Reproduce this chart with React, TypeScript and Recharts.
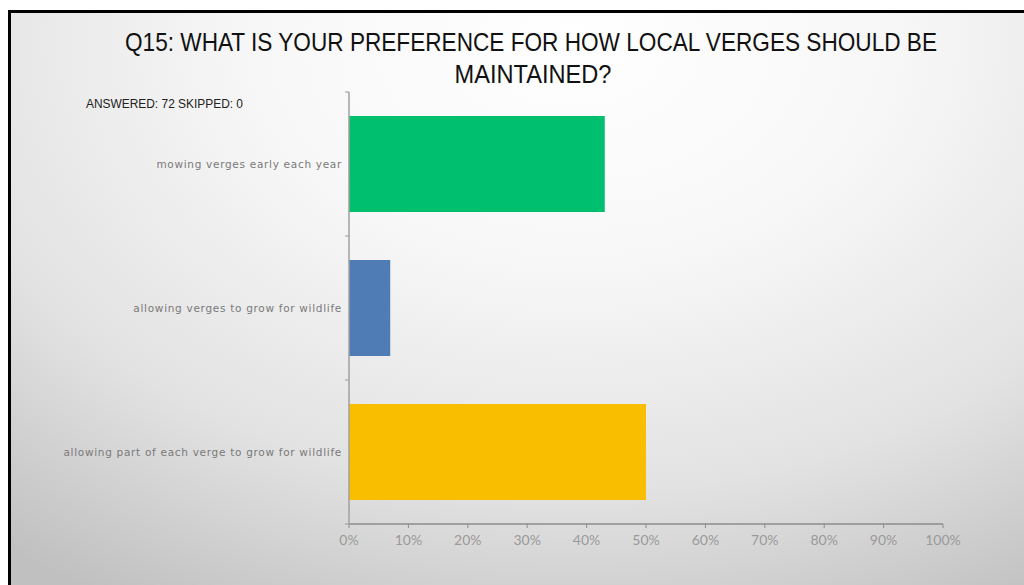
import { BarChart, Bar, XAxis, YAxis, Cell } from "recharts";

const categories = [
  "mowing verges early each year",
  "allowing verges to grow for wildlife",
  "allowing part of each verge to grow for wildlife",
];
const shares = [43.06, 6.94, 50.0];
const barColors = ["#00bf6f", "#507cb6", "#f9be00"];
const xTicks = [0, 10, 20, 30, 40, 50, 60, 70, 80, 90, 100];

const titleLines = [
  "Q15: WHAT IS YOUR PREFERENCE FOR HOW LOCAL VERGES SHOULD BE",
  "MAINTAINED?",
];
const answeredText = "ANSWERED: 72 SKIPPED: 0";

const W = 1024;
const H = 585;
const PLOT_TOP = 92;
const PLOT_BOTTOM = 524;
const AXIS_X = 349;
const HALF_BAND = (PLOT_BOTTOM - PLOT_TOP) / categories.length / 2;

const data = categories.map((name, i) => ({ name, value: shares[i] }));

// category label at band centre, small tick marks at the band edges
const CategoryTick = (props: any) => {
  const { x, y, payload, index } = props;
  const last = index === categories.length - 1;
  return (
    <g>
      <text
        x={x}
        y={y}
        dy={4}
        textAnchor="end"
        fill="#7a7a7a"
        style={{ fontSize: 10.5, fontFamily: "'DejaVu Sans', sans-serif", letterSpacing: 0.7 }}
      >
        {payload.value}
      </text>
      <line x1={AXIS_X - 4} x2={AXIS_X} y1={y - HALF_BAND} y2={y - HALF_BAND} stroke="#999" />
      {last && (
        <line x1={AXIS_X - 4} x2={AXIS_X} y1={y + HALF_BAND} y2={y + HALF_BAND} stroke="#999" />
      )}
    </g>
  );
};

export default function App() {
  return (
    <div
      style={{
        position: "fixed",
        left: 0,
        top: 0,
        width: W,
        height: H,
        background: "#fff",
        overflow: "hidden",
      }}
    >
      <div
        style={{
          position: "absolute",
          left: 8,
          top: 10,
          width: W,
          height: H,
          borderLeft: "3px solid #000",
          borderTop: "3px solid #000",
          background:
            "radial-gradient(ellipse 90% 110% at 55% 5%, #ffffff 0%, #f7f7f7 35%, #e2e2e2 70%, #c0c0c0 100%)",
        }}
      />
      <svg width={W} height={120} style={{ position: "absolute", left: 0, top: 0 }}>
        <text
          x={531}
          y={51}
          textAnchor="middle"
          fontSize={25}
          fill="#111"
          fontFamily="Liberation Sans, sans-serif"
          textLength={812}
          lengthAdjust="spacingAndGlyphs"
        >
          {titleLines[0]}
        </text>
        <text
          x={533}
          y={83}
          textAnchor="middle"
          fontSize={25}
          fill="#111"
          fontFamily="Liberation Sans, sans-serif"
          textLength={157}
          lengthAdjust="spacingAndGlyphs"
        >
          {titleLines[1]}
        </text>
        <text
          x={86}
          y={108}
          fontSize={12}
          fill="#222"
          fontFamily="Liberation Sans, sans-serif"
          textLength={157}
          lengthAdjust="spacingAndGlyphs"
        >
          {answeredText}
        </text>
      </svg>
      <div style={{ position: "absolute", left: 0, top: 0 }}>
        <BarChart
          width={W}
          height={H}
          data={data}
          layout="vertical"
          barCategoryGap="16.67%"
          margin={{ top: PLOT_TOP, right: W - 943, bottom: 31, left: 0 }}
        >
          <XAxis
            type="number"
            domain={[0, 100]}
            ticks={xTicks}
            tickFormatter={(v) => `${v}%`}
            height={30}
            tickSize={4}
            tickMargin={7}
            axisLine={{ stroke: "#8c8c8c", strokeWidth: 1.5 }}
            tickLine={{ stroke: "#8c8c8c" }}
            tick={{ fill: "#9a9a9a", fontSize: 14, fontFamily: "Lato, sans-serif" }}
          />
          <YAxis
            type="category"
            dataKey="name"
            width={AXIS_X}
            tickSize={0}
            tickMargin={7}
            tickLine={false}
            axisLine={{ stroke: "#a0a0a0", strokeWidth: 1.5 }}
            tick={<CategoryTick />}
          />
          <Bar dataKey="value" isAnimationActive={false}>
            {data.map((d, i) => (
              <Cell key={d.name} fill={barColors[i]} />
            ))}
          </Bar>
        </BarChart>
      </div>
    </div>
  );
}
